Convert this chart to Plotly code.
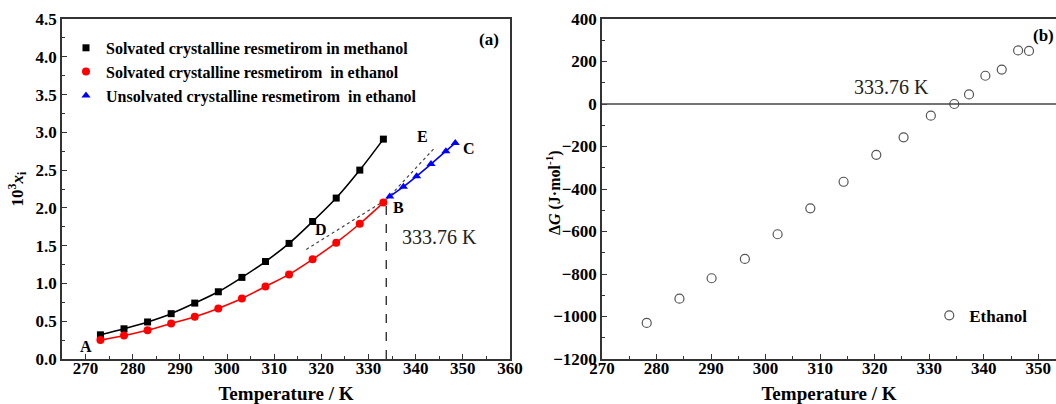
import plotly.graph_objects as go

# ---------------- data ----------------
T_solvated = [273.15, 278.15, 283.15, 288.15, 293.15, 298.15, 303.15, 308.15, 313.15, 318.15, 323.15, 328.15, 333.15]
x_methanol = [0.32, 0.40, 0.49, 0.60, 0.74, 0.89, 1.08, 1.29, 1.53, 1.82, 2.13, 2.50, 2.91]
x_ethanol_solv = [0.25, 0.31, 0.38, 0.47, 0.56, 0.67, 0.80, 0.96, 1.12, 1.32, 1.54, 1.79, 2.07]
T_unsolvated = [334.5, 337.4, 340.2, 343.25, 346.4, 348.4]
x_ethanol_unsolv = [2.15, 2.28, 2.42, 2.58, 2.75, 2.86]

D_line_T = [316.8, 333.5]
D_line_x = [1.45, 2.10]
E_line_T = [333.8, 344.1]
E_line_x = [2.11, 2.80]

T_transition = 333.76
x_transition = 2.07

T_dG = [278.2, 284.2, 290.1, 296.2, 302.2, 308.2, 314.3, 320.3, 325.3, 330.3, 334.6, 337.3, 340.3, 343.3, 346.3, 348.3]
dG = [-1030, -916, -820, -729, -613, -491, -366, -239, -157, -55, 0, 45, 133, 162, 252, 250]

point_labels = ["A", "B", "C", "D", "E"]
point_label_T = [270.1, 336.3, 351.2, 320.0, 341.5]
point_label_x = [0.17, 2.01, 2.78, 1.71, 2.94]

names = ["Solvated crystalline resmetirom in methanol",
         "Solvated crystalline resmetirom  in ethanol",
         "Unsolvated crystalline resmetirom  in ethanol"]

# ---------------- figure ----------------
FONT = "Liberation Serif"
W, H = 1056, 404
fig = go.Figure()

# lines (no legend)
fig.add_trace(go.Scatter(x=T_solvated, y=x_methanol, mode="lines", line=dict(color="black", width=1.6, shape="spline"),
                         showlegend=False, xaxis="x", yaxis="y"))
fig.add_trace(go.Scatter(x=T_solvated, y=x_ethanol_solv, mode="lines", line=dict(color="#ff0000", width=1.6, shape="spline"),
                         showlegend=False, xaxis="x", yaxis="y"))
fig.add_trace(go.Scatter(x=T_unsolvated, y=x_ethanol_unsolv, mode="lines", line=dict(color="#0000ff", width=1.6, shape="spline"),
                         showlegend=False, xaxis="x", yaxis="y"))
# dotted tangents
fig.add_trace(go.Scatter(x=D_line_T, y=D_line_x, mode="lines", line=dict(color="#444", width=1.2, dash="dot"),
                         showlegend=False, xaxis="x", yaxis="y"))
fig.add_trace(go.Scatter(x=E_line_T, y=E_line_x, mode="lines", line=dict(color="#444", width=1.2, dash="dot"),
                         showlegend=False, xaxis="x", yaxis="y"))
# vertical dashed line
fig.add_trace(go.Scatter(x=[T_transition, T_transition], y=[0, x_transition], mode="lines",
                         line=dict(color="#222", width=1.3, dash="dash"), showlegend=False, xaxis="x", yaxis="y"))

# markers (legend)
fig.add_trace(go.Scatter(x=T_solvated, y=x_methanol, mode="markers", name=names[0],
                         marker=dict(symbol="square", size=7, color="black"), xaxis="x", yaxis="y", legend="legend"))
fig.add_trace(go.Scatter(x=T_solvated, y=x_ethanol_solv, mode="markers", name=names[1],
                         marker=dict(symbol="circle", size=8, color="#ff0000"), xaxis="x", yaxis="y", legend="legend"))
fig.add_trace(go.Scatter(x=T_unsolvated, y=x_ethanol_unsolv, mode="markers", name=names[2],
                         marker=dict(symbol="triangle-up", size=8, color="#0000ff"), xaxis="x", yaxis="y", legend="legend"))

# right panel
fig.add_trace(go.Scatter(x=T_dG, y=dG, mode="markers", name="Ethanol",
                         marker=dict(symbol="circle-open", size=9, color="#555", line=dict(width=1.2, color="#555")),
                         xaxis="x2", yaxis="y2", legend="legend2"))

L0, L1 = 62 / W, 510 / W
R0, R1 = 602 / W, 1.0
axis_common = dict(showline=True, linecolor="#333", linewidth=1.5, ticks="inside", ticklen=5,
                   tickcolor="#333", tickwidth=1.2, showgrid=False, zeroline=False, automargin=False,
                   tickfont=dict(family=FONT, size=17, color="black", weight=700))
xfont = dict(family=FONT, size=19, weight=700, color="black")

fig.update_layout(
    template="none",
    width=W, height=H, paper_bgcolor="white", plot_bgcolor="white",
    margin=dict(l=0, r=0, t=19, b=45),
    font=dict(family=FONT, color="black"),
    showlegend=True,
    xaxis=dict(domain=[L0, L1], range=[265, 360], dtick=10, tick0=270, mirror=True, ticklabelstandoff=-7,
               minor=dict(ticks="inside", ticklen=3, dtick=5, tickcolor="#333"),
               title=dict(text="Temperature / K", font=xfont, standoff=12),
               anchor="y", **axis_common),
    yaxis=dict(domain=[0, 1], range=[0, 4.5], dtick=0.5, tickformat=".1f", mirror=True,
               minor=dict(ticks="inside", ticklen=3, dtick=0.25, tickcolor="#333"),
               title=dict(text="10<sup>3</sup><i>x</i><sub>i</sub>", font=dict(family=FONT, size=17, weight=700), standoff=8),
               anchor="x", **axis_common),
    xaxis2=dict(domain=[R0, R1], range=[270, 353.25], dtick=10, tick0=270, mirror=True, ticklabelstandoff=-7,
                minor=dict(ticks="inside", ticklen=3, dtick=5, tickcolor="#333"),
                title=dict(text="Temperature / K", font=xfont, standoff=12),
                anchor="y2", **axis_common),
    yaxis2=dict(domain=[0, 1], range=[-1200, 400], dtick=200, mirror=False,
                minor=dict(ticks="inside", ticklen=3, dtick=100, tickcolor="#333"),
                anchor="x2", **axis_common),
    legend=dict(x=0.0625, y=0.965, xanchor="left", yanchor="top", bgcolor="rgba(0,0,0,0)",
                font=dict(family=FONT, size=16, weight=700), itemwidth=30, tracegroupgap=0),
    legend2=dict(x=0.880, y=0.18, xanchor="left", yanchor="top", bgcolor="rgba(0,0,0,0)",
                 font=dict(family=FONT, size=17, weight=700), itemwidth=30),
)

# horizontal zero line in right panel
fig.add_shape(type="line", xref="x2 domain", x0=0, x1=1, yref="y2", y0=0, y1=0, line=dict(color="#444", width=1.5))

# annotations
for lab, tx, ty in zip(point_labels, point_label_T, point_label_x):
    fig.add_annotation(x=tx, y=ty, xref="x", yref="y", text=lab, showarrow=False,
                       font=dict(family=FONT, size=16, weight=700, color="black"))
fig.add_annotation(x=345.0, y=1.61, xref="x", yref="y", text="333.76 K", showarrow=False,
                   font=dict(family=FONT, size=20, color="#222"))
fig.add_annotation(x=323.1, y=80, xref="x2", yref="y2", text="333.76 K", showarrow=False,
                   font=dict(family=FONT, size=20, color="#222"))
fig.add_annotation(x=501 / W, y=0.975, xref="paper", yref="paper", text="(a)", showarrow=False,
                   xanchor="right", font=dict(family=FONT, size=17, weight=700))
fig.add_annotation(x=1.0, y=0.985, xref="paper", yref="paper", text="(b)", showarrow=False,
                   xanchor="right", font=dict(family=FONT, size=17, weight=700))
# right y-axis title
fig.add_annotation(x=553 / W, y=0.488, xref="paper", yref="paper", text="Δ<i>G</i> (J·mol<sup>-1</sup>)",
                   textangle=-90, showarrow=False, font=dict(family=FONT, size=16, weight=700))

fig.write_html("out.html")
